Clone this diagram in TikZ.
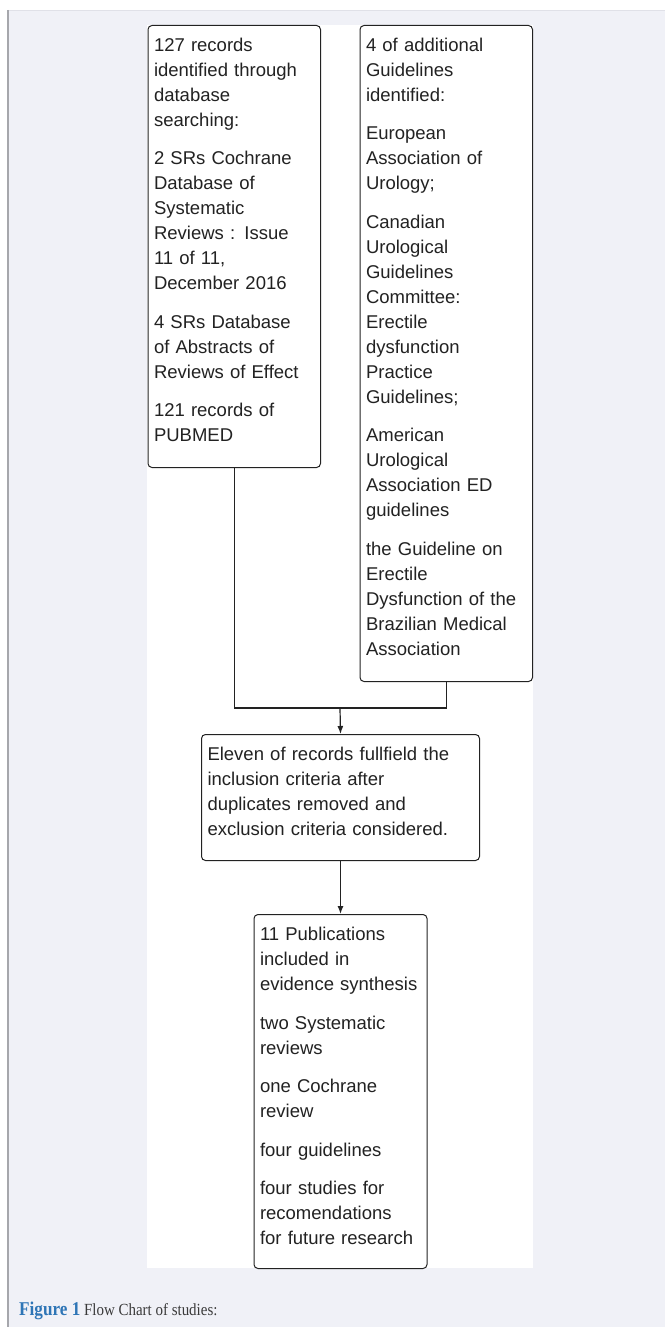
\documentclass[tikz,border=0pt]{standalone}
\usepackage{fontspec}
\setmainfont{Liberation Sans}
\newfontfamily\capfont[FakeStretch=0.88]{Liberation Serif}
\usetikzlibrary{arrows.meta}
\definecolor{panelbg}{HTML}{F0F1F7}
\definecolor{panelline}{HTML}{E0E1E8}
\definecolor{panelleft}{HTML}{A6A7AC}
\definecolor{figblue}{HTML}{2E75B6}
\definecolor{capgray}{HTML}{3A3A3A}
\definecolor{inkgray}{HTML}{222222}
\begin{document}
\begin{tikzpicture}[x=1pt, y=-1pt,
    flowbox/.style={draw=inkgray, line width=1pt, rounded corners=4pt, fill=white,
        anchor=north west, align=left, inner xsep=6pt, inner ysep=0pt,
        text=inkgray, font=\fontsize{18.5}{25}\selectfont, text height=26pt},
    flowline/.style={draw=inkgray, line width=1.2pt},
    flowarrow/.style={flowline, -{Latex[length=8pt,width=6pt]}}]
\useasboundingbox (0,0) rectangle (665,1327);
%page panel
\fill[panelbg] (8,10) rectangle (665,1327);
\draw[panelline, line width=1pt] (8,10.5) -- (665,10.5);
\draw[panelleft, line width=1.5pt] (8,10) -- (8,1327);
\fill[white] (147,25) rectangle (533,1268);
%top row
\node[flowbox, text width=160.5pt, text depth=416pt] (records) at (147.5,25)
    {127 records\\identified through\\database\\searching:\\[13.5pt]
     2 SRs Cochrane\\Database of\\Systematic\\Reviews : Issue\\11 of 11,\\December 2016\\[13.5pt]
     4 SRs Database\\of Abstracts of\\Reviews of Effect\\[13.5pt]
     121 records of\\PUBMED};
\node[flowbox, text width=160.5pt, text depth=630pt] (guides) at (359.5,25)
    {4 of additional\\Guidelines\\identified:\\[13.5pt]
     European\\Association of\\Urology;\\[13.5pt]
     Canadian\\Urological\\Guidelines\\Committee:\\Erectile\\dysfunction\\Practice\\Guidelines;\\[13.5pt]
     American\\Urological\\Association ED\\guidelines\\[13.5pt]
     the Guideline on\\Erectile\\Dysfunction of the\\Brazilian Medical\\Association};
%screening
\node[flowbox, text width=266pt, text depth=100pt] (screen) at (201,734)
    {Eleven of records fullfield the\\inclusion criteria after\\duplicates removed and\\exclusion criteria considered.};
%included
\node[flowbox, text width=161pt, text depth=328pt] (incl) at (253.5,914)
    {11 Publications\\included in\\evidence synthesis\\[13.5pt]
     two Systematic\\reviews\\[13.5pt]
     one Cochrane\\review\\[13.5pt]
     four guidelines\\[13.5pt]
     four studies for\\recomendations\\for future research};
%connectors
\coordinate (join) at (340,708);
\draw[flowline] (records.south) |- (join) -| (guides.south);
\draw[flowarrow] (join) -- (screen.north);
\draw[flowarrow] (screen.south) -- (incl.north);
%caption
\node[anchor=base west, inner sep=0pt, text=capgray,
    font=\capfont\fontsize{17}{20}\selectfont] (caption) at (19,1315)
    {\textcolor{figblue}{\fontsize{19.5}{20}\selectfont\bfseries Figure 1} Flow Chart of studies:};
\end{tikzpicture}
\end{document}
